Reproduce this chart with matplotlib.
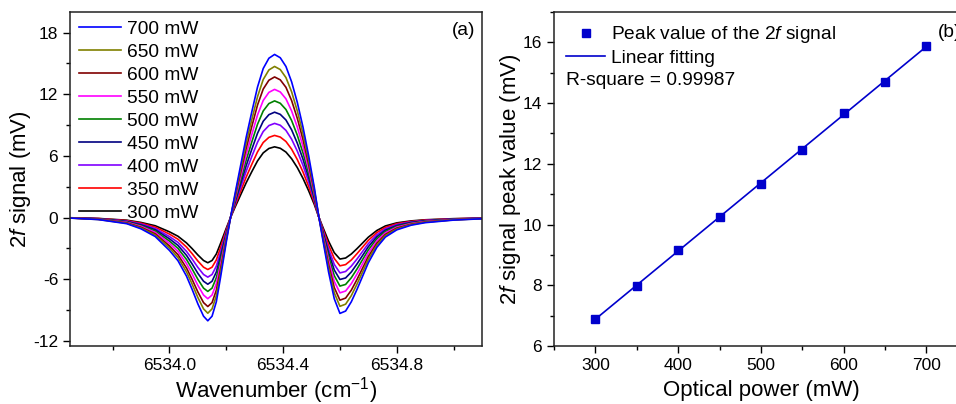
import matplotlib
matplotlib.use('Agg')
import matplotlib.pyplot as plt
import numpy as np
from matplotlib.ticker import MultipleLocator, FormatStrFormatter

plt.rcParams['font.family'] = ['Liberation Sans', 'DejaVu Sans']
plt.rcParams['mathtext.fontset'] = 'custom'
plt.rcParams['mathtext.rm'] = 'Liberation Sans'
plt.rcParams['mathtext.it'] = 'Liberation Sans:italic'
plt.rcParams['axes.unicode_minus'] = False

# panel (a): 2f signal vs wavenumber for each optical power
wavenumber = [6533.65, 6533.75, 6533.85, 6533.90, 6533.95, 6534.00, 6534.03, 6534.06,
              6534.08, 6534.10, 6534.12, 6534.135, 6534.15, 6534.165, 6534.18, 6534.20,
              6534.215, 6534.23, 6534.25, 6534.27, 6534.29, 6534.31, 6534.33, 6534.35,
              6534.37, 6534.39, 6534.41, 6534.43, 6534.45, 6534.47, 6534.49, 6534.51,
              6534.525, 6534.54, 6534.56, 6534.58, 6534.60, 6534.62, 6534.64, 6534.66,
              6534.68, 6534.70, 6534.73, 6534.76, 6534.80, 6534.85, 6534.90, 6535.00, 6535.10]

sig_700 = [-0.05, -0.20, -0.60, -1.10, -1.85, -3.20, -4.20, -5.70, -7.00, -8.40, -9.60, -10.05,
           -9.60, -8.20, -5.80, -2.40, 0.00, 2.20, 5.00, 7.80, 10.30, 12.70, 14.50, 15.50,
           15.87, 15.55, 14.70, 13.20, 11.20, 8.80, 6.00, 2.90, 0.20, -2.20, -5.30, -7.90,
           -9.33, -9.10, -8.20, -7.00, -5.70, -4.40, -2.90, -1.90, -1.20, -0.75, -0.50, -0.25, -0.12]
sig_650 = [-0.05, -0.19, -0.56, -1.02, -1.71, -2.96, -3.89, -5.28, -6.48, -7.78, -8.89, -9.31,
           -8.89, -7.60, -5.37, -2.22, 0.00, 2.04, 4.63, 7.23, 9.54, 11.76, 13.43, 14.36,
           14.70, 14.40, 13.62, 12.23, 10.37, 8.15, 5.56, 2.69, 0.19, -2.04, -4.91, -7.32,
           -8.64, -8.43, -7.60, -6.48, -5.28, -4.08, -2.69, -1.76, -1.11, -0.69, -0.46, -0.23, -0.11]
sig_600 = [-0.04, -0.17, -0.52, -0.95, -1.59, -2.76, -3.62, -4.91, -6.03, -7.24, -8.28, -8.66,
           -8.28, -7.07, -5.00, -2.07, 0.00, 1.90, 4.31, 6.72, 8.88, 10.95, 12.50, 13.36,
           13.68, 13.40, 12.67, 11.38, 9.65, 7.59, 5.17, 2.50, 0.17, -1.90, -4.57, -6.81,
           -8.04, -7.84, -7.07, -6.03, -4.91, -3.79, -2.50, -1.64, -1.03, -0.65, -0.43, -0.22, -0.10]
sig_550 = [-0.04, -0.16, -0.47, -0.86, -1.45, -2.51, -3.30, -4.48, -5.50, -6.60, -7.54, -7.90,
           -7.54, -6.44, -4.56, -1.89, 0.00, 1.73, 3.93, 6.13, 8.09, 9.98, 11.39, 12.18,
           12.47, 12.22, 11.55, 10.37, 8.80, 6.92, 4.71, 2.28, 0.16, -1.73, -4.16, -6.21,
           -7.33, -7.15, -6.44, -5.50, -4.48, -3.46, -2.28, -1.49, -0.94, -0.59, -0.39, -0.20, -0.09]
sig_500 = [-0.04, -0.14, -0.43, -0.79, -1.32, -2.29, -3.00, -4.08, -5.01, -6.01, -6.87, -7.19,
           -6.87, -5.86, -4.15, -1.72, 0.00, 1.57, 3.58, 5.58, 7.37, 9.08, 10.37, 11.09,
           11.35, 11.12, 10.51, 9.44, 8.01, 6.29, 4.29, 2.07, 0.14, -1.57, -3.79, -5.65,
           -6.67, -6.51, -5.86, -5.01, -4.08, -3.15, -2.07, -1.36, -0.86, -0.54, -0.36, -0.18, -0.09]
sig_450 = [-0.03, -0.13, -0.39, -0.71, -1.19, -2.07, -2.71, -3.68, -4.52, -5.43, -6.20, -6.49,
           -6.20, -5.30, -3.75, -1.55, 0.00, 1.42, 3.23, 5.04, 6.65, 8.20, 9.37, 10.01,
           10.25, 10.04, 9.49, 8.53, 7.23, 5.68, 3.88, 1.87, 0.13, -1.42, -3.42, -5.10,
           -6.03, -5.88, -5.30, -4.52, -3.68, -2.84, -1.87, -1.23, -0.78, -0.48, -0.32, -0.16, -0.08]
sig_400 = [-0.03, -0.12, -0.35, -0.63, -1.07, -1.85, -2.42, -3.29, -4.04, -4.85, -5.54, -5.80,
           -5.54, -4.73, -3.35, -1.39, 0.00, 1.27, 2.89, 4.50, 5.95, 7.33, 8.37, 8.95,
           9.16, 8.98, 8.48, 7.62, 6.46, 5.08, 3.46, 1.67, 0.12, -1.27, -3.06, -4.56,
           -5.39, -5.25, -4.73, -4.04, -3.29, -2.54, -1.67, -1.10, -0.69, -0.43, -0.29, -0.14, -0.07]
sig_350 = [-0.03, -0.10, -0.30, -0.55, -0.93, -1.61, -2.11, -2.87, -3.52, -4.23, -4.83, -5.06,
           -4.83, -4.13, -2.92, -1.21, 0.00, 1.11, 2.52, 3.93, 5.19, 6.39, 7.30, 7.80,
           7.99, 7.83, 7.40, 6.65, 5.64, 4.43, 3.02, 1.46, 0.10, -1.11, -2.67, -3.98,
           -4.70, -4.58, -4.13, -3.52, -2.87, -2.22, -1.46, -0.96, -0.60, -0.38, -0.25, -0.13, -0.06]
sig_300 = [-0.02, -0.09, -0.26, -0.48, -0.80, -1.39, -1.82, -2.47, -3.03, -3.64, -4.18, -4.40,
           -4.18, -3.55, -2.51, -1.04, 0.00, 0.95, 2.17, 3.38, 4.47, 5.51, 6.29, 6.72,
           6.88, 6.74, 6.37, 5.72, 4.86, 3.81, 2.60, 1.26, 0.09, -0.95, -2.30, -3.42,
           -4.04, -3.94, -3.55, -3.03, -2.47, -1.91, -1.26, -0.82, -0.52, -0.33, -0.22, -0.11, -0.05]

power_labels = ['700 mW', '650 mW', '600 mW', '550 mW', '500 mW',
                '450 mW', '400 mW', '350 mW', '300 mW']
signals = [sig_700, sig_650, sig_600, sig_550, sig_500, sig_450, sig_400, sig_350, sig_300]
colors = ['#0000FF', '#808000', '#800000', '#FF00FF', '#008000',
          '#000080', '#8000FF', '#FF0000', '#000000']

# panel (b): peak of the 2f signal vs optical power
power = [300, 350, 400, 450, 500, 550, 600, 650, 700]
peak = [6.88, 7.99, 9.16, 10.25, 11.35, 12.47, 13.68, 14.70, 15.87]

fig = plt.figure(figsize=(9.56, 4.04), dpi=100)
ax1 = fig.add_axes([0.0732, 0.1436, 0.431, 0.8267])
ax2 = fig.add_axes([0.5795, 0.1436, 0.4328, 0.8267])

tick_fs = 12.5
label_fs = 16
leg_fs = 13.8

# draw low power first so the blue curve ends up on top
handles = {}
for lab, sig, c in reversed(list(zip(power_labels, signals, colors))):
    h, = ax1.plot(wavenumber, sig, color=c, lw=1.2)
    handles[lab] = h
ax1.legend([handles[l] for l in power_labels], power_labels, loc='upper left',
           frameon=False, fontsize=leg_fs, handlelength=2.2, handletextpad=0.3,
           labelspacing=0.29, borderaxespad=0.2, borderpad=0.25)
ax1.set_xlim(6533.65, 6535.1)
ax1.set_ylim(-12.5, 20)
ax1.xaxis.set_major_locator(MultipleLocator(0.4))
ax1.xaxis.set_minor_locator(MultipleLocator(0.2))
ax1.xaxis.set_major_formatter(FormatStrFormatter('%.1f'))
ax1.yaxis.set_major_locator(MultipleLocator(6))
ax1.yaxis.set_minor_locator(MultipleLocator(3))
ax1.set_xticks([6534.0, 6534.4, 6534.8])
ax1.set_xlabel('Wavenumber (cm$^{-1}$)', fontsize=label_fs, labelpad=1.5)
ax1.set_ylabel('2$\\mathit{f}$ signal (mV)', fontsize=label_fs)
ax1.yaxis.set_label_coords(-0.090, 0.5)
ax1.text(0.985, 0.97, '(a)', transform=ax1.transAxes, ha='right', va='top', fontsize=leg_fs)

fit = np.polyfit(power, peak, 1)
fit_x = np.array([power[0], power[-1]])
ax2.plot(power, peak, 's', color='#0000CC', ms=5.5, label='Peak value of the 2$\\mathit{f}$ signal')
ax2.plot(fit_x, np.polyval(fit, fit_x), '-', color='#0000CC', lw=1.2, label='Linear fitting')
ax2.legend(loc='upper left', frameon=False, fontsize=leg_fs, handlelength=2.0,
           handletextpad=0.3, labelspacing=0.2, borderaxespad=0.3, borderpad=0.35,
           numpoints=1)
ax2.text(0.03, 0.795, 'R-square = 0.99987', transform=ax2.transAxes, fontsize=leg_fs,
         ha='left', va='center')
ax2.set_xlim(250, 750)
ax2.set_ylim(6, 17)
ax2.xaxis.set_major_locator(MultipleLocator(100))
ax2.xaxis.set_minor_locator(MultipleLocator(50))
ax2.yaxis.set_major_locator(MultipleLocator(2))
ax2.yaxis.set_minor_locator(MultipleLocator(1))
ax2.set_xticks([300, 400, 500, 600, 700])
ax2.set_xlabel('Optical power (mW)', fontsize=label_fs, labelpad=5)
ax2.set_ylabel('2$\\mathit{f}$ signal peak value (mV)', fontsize=label_fs)
ax2.yaxis.set_label_coords(-0.075, 0.5)
ax2.text(0.985, 0.965, '(b)', transform=ax2.transAxes, ha='right', va='top', fontsize=leg_fs)

for ax in (ax1, ax2):
    for s in ax.spines.values():
        s.set_linewidth(1.1)
        s.set_color('#222222')
    ax.tick_params(which='both', direction='out', top=False, right=False,
                   labelsize=tick_fs, width=1.0)
    ax.tick_params(which='major', length=5)
    ax.tick_params(which='minor', length=3)

fig.savefig('out.png', dpi=100)
